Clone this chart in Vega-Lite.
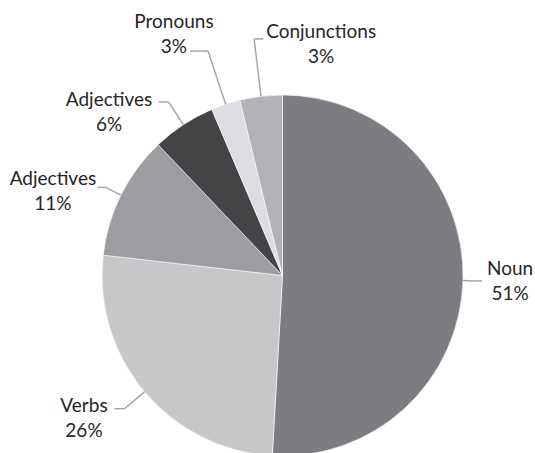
{
  "$schema": "https://vega.github.io/schema/vega-lite/v6.json",
  "width": 355,
  "height": 355,
  "autosize": {"type": "none"},
  "padding": {"left": 105, "top": 98, "right": 75, "bottom": 0},
  "background": "white",
  "config": {"view": {"stroke": null}, "font": "Lato"},
  "data": {
    "values": [
      {"slice": "Noun", "name": "Noun", "pct": "51%", "value": 50.9, "ord": 1},
      {"slice": "Verbs", "name": "Verbs", "pct": "26%", "value": 25.9, "ord": 2},
      {"slice": "Adjectives A", "name": "Adjectives", "pct": "11%", "value": 11.1, "ord": 3},
      {"slice": "Adjectives B", "name": "Adjectives", "pct": "6%", "value": 5.7, "ord": 4},
      {"slice": "Pronouns", "name": "Pronouns", "pct": "3%", "value": 2.6, "ord": 5},
      {"slice": "Conjunctions", "name": "Conjunctions", "pct": "3%", "value": 3.8, "ord": 6}
    ]
  },
  "transform": [
    {"joinaggregate": [{"op": "sum", "field": "value", "as": "total"}]},
    {"window": [{"op": "sum", "field": "value", "as": "cum"}], "sort": [{"field": "ord"}], "frame": [null, 0]},
    {"calculate": "2*PI*(datum.cum - datum.value/2)/datum.total", "as": "mid"},
    {"calculate": "datum.ord==1 ? 1.056 : datum.ord==2 ? 1.145 : datum.ord==3 ? 1.095 : datum.ord==4 ? 1.15 : datum.ord==5 ? 1.31 : 1.32", "as": "elbow"},
    {"calculate": "datum.ord==1 ? 0.05 : datum.ord==2 ? -0.055 : datum.ord==3 ? -0.044 : datum.ord==4 ? -0.055 : datum.ord==5 ? -0.1 : 0.05", "as": "tail"},
    {"calculate": "sin(datum.mid)", "as": "x0"},
    {"calculate": "cos(datum.mid)", "as": "y0"},
    {"calculate": "datum.elbow*sin(datum.mid)", "as": "x1"},
    {"calculate": "datum.elbow*cos(datum.mid)", "as": "y1"},
    {"calculate": "datum.x1 + datum.tail", "as": "x2"},
    {"calculate": "datum.name + '\\n' + datum.pct", "as": "label"}
  ],
  "layer": [
    {
      "mark": {"type": "arc", "radius": 180.5, "stroke": "white", "strokeWidth": 0.6},
      "encoding": {
        "theta": {"field": "value", "type": "quantitative", "stack": true},
        "order": {"field": "ord", "type": "quantitative"},
        "color": {
          "field": "slice",
          "type": "nominal",
          "scale": {
            "domain": ["Noun", "Verbs", "Adjectives A", "Adjectives B", "Pronouns", "Conjunctions"],
            "range": ["#7c7d81", "#c6c7c9", "#9c9da1", "#434446", "#dcdde0", "#b2b3b6"]
          },
          "legend": null
        }
      }
    },
    {
      "mark": {"type": "rule", "color": "#a6a6a6", "strokeWidth": 1.5},
      "encoding": {
        "x": {"field": "x0", "type": "quantitative", "scale": {"domain": [-0.98338, 0.98338], "nice": false, "zero": false}, "axis": null},
        "y": {"field": "y0", "type": "quantitative", "scale": {"domain": [-0.98338, 0.98338], "nice": false, "zero": false}, "axis": null},
        "x2": {"field": "x1"},
        "y2": {"field": "y1"}
      }
    },
    {
      "mark": {"type": "rule", "color": "#a6a6a6", "strokeWidth": 1.5},
      "encoding": {
        "x": {"field": "x1", "type": "quantitative"},
        "x2": {"field": "x2"},
        "y": {"field": "y1", "type": "quantitative"}
      }
    },
    {
      "transform": [{"filter": "datum.ord == 1"}],
      "mark": {"type": "text", "dx": 28, "dy": -11.5, "align": "center", "baseline": "middle", "lineBreak": "\n", "fontSize": 19, "lineHeight": 25, "color": "#262626"},
      "encoding": {"x": {"field": "x2", "type": "quantitative"}, "y": {"field": "y1", "type": "quantitative"}, "text": {"field": "label"}}
    },
    {
      "transform": [{"filter": "datum.ord == 2"}],
      "mark": {"type": "text", "dx": -30.6, "dy": -3.2, "align": "center", "baseline": "middle", "lineBreak": "\n", "fontSize": 19, "lineHeight": 25, "color": "#262626"},
      "encoding": {"x": {"field": "x2", "type": "quantitative"}, "y": {"field": "y1", "type": "quantitative"}, "text": {"field": "label"}}
    },
    {
      "transform": [{"filter": "datum.ord == 3"}],
      "mark": {"type": "text", "dx": -44.7, "dy": -8.4, "align": "center", "baseline": "middle", "lineBreak": "\n", "fontSize": 19, "lineHeight": 25, "color": "#262626"},
      "encoding": {"x": {"field": "x2", "type": "quantitative"}, "y": {"field": "y1", "type": "quantitative"}, "text": {"field": "label"}}
    },
    {
      "transform": [{"filter": "datum.ord == 4"}],
      "mark": {"type": "text", "dx": -49.6, "dy": -2.5, "align": "center", "baseline": "middle", "lineBreak": "\n", "fontSize": 19, "lineHeight": 25, "color": "#262626"},
      "encoding": {"x": {"field": "x2", "type": "quantitative"}, "y": {"field": "y1", "type": "quantitative"}, "text": {"field": "label"}}
    },
    {
      "transform": [{"filter": "datum.ord == 5"}],
      "mark": {"type": "text", "dx": -16, "dy": -29.5, "align": "center", "baseline": "middle", "lineBreak": "\n", "fontSize": 19, "lineHeight": 25, "color": "#262626"},
      "encoding": {"x": {"field": "x2", "type": "quantitative"}, "y": {"field": "y1", "type": "quantitative"}, "text": {"field": "label"}}
    },
    {
      "transform": [{"filter": "datum.ord == 6"}],
      "mark": {"type": "text", "dx": 58, "dy": -7.4, "align": "center", "baseline": "middle", "lineBreak": "\n", "fontSize": 19, "lineHeight": 25, "color": "#262626"},
      "encoding": {"x": {"field": "x2", "type": "quantitative"}, "y": {"field": "y1", "type": "quantitative"}, "text": {"field": "label"}}
    }
  ]
}
